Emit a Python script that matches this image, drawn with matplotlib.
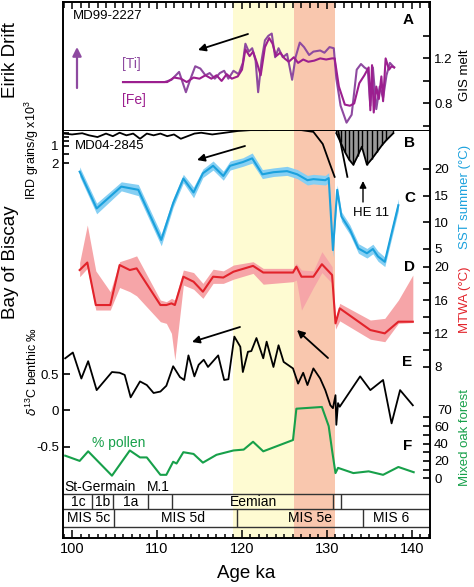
import matplotlib
matplotlib.use('Agg')
import matplotlib.pyplot as plt
from matplotlib.ticker import MultipleLocator

plt.rcParams['font.family'] = ['Liberation Sans', 'DejaVu Sans']
plt.rcParams['mathtext.fontset'] = 'custom'
plt.rcParams['mathtext.rm'] = 'Liberation Sans'

# ---------------- data ----------------
# Panel A: MD99-2227 [Ti] and [Fe] (GIS melt index)
ti_age = [106.0, 108.5, 110.9, 111.7, 112.6, 113.4, 113.9, 114.5, 115.1, 115.7, 116.2, 116.8,
          117.4, 117.9, 118.4, 119.0, 119.6, 120.1, 120.4, 120.8, 121.2, 121.6, 121.9, 122.3,
          122.7, 123.1, 123.5, 123.9, 124.3, 124.8, 125.3, 125.9, 126.3, 126.8, 127.3, 127.9,
          128.4, 129.2, 129.7, 130.3, 130.8, 131.1, 131.6, 132.3, 132.9, 133.5, 134.0, 134.4,
          134.8, 135.1, 135.4, 135.8, 136.2, 136.6, 137.0, 137.4, 137.9]
ti_val = [0.99, 0.99, 0.99, 1.01, 1.08, 0.90, 1.01, 1.13, 1.11, 1.05, 1.07, 1.02,
          1.07, 1.09, 1.02, 1.09, 1.06, 1.16, 1.33, 1.26, 1.29, 1.18, 0.90, 1.18,
          1.36, 1.40, 1.42, 1.21, 1.29, 1.21, 1.24, 1.01, 1.21, 1.34, 1.30, 1.23,
          1.26, 1.27, 1.25, 1.30, 1.29, 1.02, 0.78, 0.63, 0.70, 1.10, 1.15, 1.12,
          1.10, 0.78, 1.12, 0.75, 0.95, 0.85, 1.05, 1.16, 1.12]
fe_age = [106.0, 108.5, 111.2, 112.0, 112.8, 113.5, 114.3, 115.0, 115.7, 116.4, 117.0,
          117.6, 118.2, 118.8, 119.5, 120.0, 120.4, 120.9, 121.3, 121.8, 122.2, 122.7,
          123.2, 123.6, 124.0, 124.5, 125.0, 125.5, 126.1, 126.6, 127.2, 127.8, 128.5,
          129.2, 129.9, 130.6, 130.9, 131.4, 132.1, 132.7, 133.2, 133.8, 134.4, 134.9,
          135.1, 135.3, 135.5, 135.8, 136.1, 136.4, 136.6, 136.9, 137.3, 137.6, 137.9]
fe_val = [0.99, 0.99, 0.99, 1.03, 1.02, 0.99, 1.03, 1.02, 1.05, 1.02, 1.05,
          1.00, 1.06, 1.02, 1.04, 1.10, 1.28, 1.22, 1.26, 1.15, 1.05, 1.30,
          1.38, 1.33, 1.22, 1.25, 1.20, 1.17, 1.21, 1.16, 1.19, 1.17, 1.18,
          1.20, 1.19, 1.20, 1.20, 0.95, 0.79, 0.78, 0.80, 0.98, 1.05, 1.12,
          0.74, 1.14, 0.72, 0.95, 0.84, 1.04, 0.82, 1.20, 1.10, 1.13, 1.12]

# Panel B: IRD grains/g x10^3 (MD04-2845)
ird_age = [99.1, 100.0, 101.2, 102.0, 103.0, 104.0, 104.8, 105.6, 106.4, 107.2, 108.0,
           108.8, 109.6, 110.4, 111.2, 112.0, 112.8, 113.6, 114.4, 115.2, 116.5, 118.0,
           119.5, 121.0, 123.0, 125.0, 127.0, 128.4, 129.5, 130.3, 130.9]
ird_val = [0.30, 0.35, 0.28, 0.40, 0.50, 0.30, 0.45, 0.25, 0.40, 0.30, 0.60,
           0.30, 0.40, 0.30, 0.45, 0.35, 0.60, 0.45, 0.30, 0.25, 0.35, 0.25,
           0.15, 0.10, 0.10, 0.08, 0.10, 0.20, 0.90, 2.00, 2.80]
he_age = [131.1, 131.6, 132.1, 132.6, 133.1, 133.6, 134.1, 134.7, 135.3, 135.9, 136.5, 137.0, 137.8]
he_val = [0.28, 0.80, 1.35, 1.80, 2.10, 1.60, 1.06, 2.10, 1.75, 1.35, 0.95, 0.67, 0.28]
ird2_age = [131.3, 132.4]
ird2_val = [0.10, 2.80]

# Panel C: SST summer (deg C)
sst_age = [100.9, 102.9, 105.8, 107.8, 110.5, 111.9, 113.1, 114.3, 115.4, 116.6, 117.8, 118.6,
           120.1, 121.2, 122.4, 123.7, 125.3, 126.5, 127.7, 128.4, 129.8, 130.2, 130.7, 131.2,
           131.7, 132.7, 133.7, 134.7, 135.4, 136.0, 136.8, 137.7, 138.4]
sst_val = [19.5, 12.6, 16.7, 16.1, 6.7, 13.6, 18.2, 15.6, 19.2, 20.6, 18.7, 20.6,
           21.3, 22.0, 19.0, 19.4, 19.6, 19.0, 17.9, 18.1, 17.9, 18.3, 4.8, 16.1,
           11.1, 8.6, 5.1, 4.2, 5.0, 3.6, 2.6, 8.6, 13.2]
sst_lo = [18.6, 11.6, 15.9, 15.0, 5.6, 12.8, 17.4, 14.6, 18.4, 19.8, 17.9, 19.8,
          20.5, 21.1, 18.2, 18.6, 18.8, 18.2, 17.0, 17.2, 17.0, 17.4, 3.5, 15.0,
          10.2, 7.7, 4.2, 3.3, 4.1, 2.7, 1.7, 7.6, 12.2]
sst_hi = [20.4, 13.6, 17.6, 17.1, 7.8, 14.5, 19.0, 16.6, 20.0, 21.5, 19.6, 21.5,
          22.1, 23.0, 19.9, 20.2, 20.5, 19.9, 18.8, 19.0, 18.8, 19.3, 6.0, 17.0,
          12.0, 9.5, 6.0, 5.1, 5.9, 4.6, 3.5, 9.6, 14.4]

# Panel D: MTWA (deg C)
mtwa_age = [100.9, 101.8, 102.8, 104.5, 105.6, 106.8, 107.6, 110.4, 111.1, 111.7, 112.1, 113.1,
            114.3, 115.4, 116.6, 117.8, 119.0, 121.3, 122.5, 126.0, 126.4, 127.0, 128.4, 129.4,
            130.6, 131.0, 131.5, 135.1, 136.8, 138.4, 140.1]
mtwa_val = [19.6, 20.5, 15.4, 15.4, 20.2, 19.6, 19.8, 15.4, 15.4, 15.6, 15.4, 18.8,
            18.2, 17.0, 18.8, 18.7, 19.4, 20.1, 19.3, 19.3, 20.0, 18.8, 18.8, 20.3,
            19.0, 13.2, 15.0, 12.4, 12.0, 13.4, 13.4]
mtwa_lo = [18.8, 19.8, 14.8, 14.8, 17.5, 17.0, 16.5, 13.4, 13.2, 12.0, 8.8, 17.8,
           17.3, 16.2, 18.0, 18.0, 18.5, 19.2, 17.9, 18.2, 18.4, 14.8, 17.5, 19.3,
           18.0, 12.5, 13.5, 11.3, 11.0, 13.2, 13.3]
mtwa_hi = [20.5, 25.0, 19.5, 17.0, 20.6, 21.0, 21.3, 16.0, 15.8, 16.2, 16.0, 19.6,
           19.3, 18.0, 19.7, 19.5, 20.2, 20.6, 19.8, 19.8, 20.4, 19.6, 19.5, 21.8,
           20.0, 13.8, 15.6, 13.6, 13.8, 16.0, 19.0]

# Panel E: benthic d13C (permil)
d13_age = [99.2, 100.1, 101.1, 101.9, 102.9, 104.7, 105.6, 106.2, 106.9, 108.0, 108.8, 109.6,
           110.4, 111.1, 111.9, 112.7, 113.2, 113.7, 114.4, 114.9, 115.5, 116.0, 117.2, 117.9,
           118.4, 119.1, 119.8, 120.1, 120.7, 121.1, 121.7, 122.5, 122.9, 123.7, 124.3, 124.9,
           126.0, 126.6, 127.2, 127.7, 128.4, 129.2, 129.8, 130.4, 130.7, 131.0, 131.1, 131.3,
           131.5, 133.9, 135.1, 136.6, 137.6, 138.6, 140.1]
d13_val = [0.72, 0.80, 0.44, 0.68, 0.28, 0.53, 0.52, 0.49, 0.18, 0.40, 0.35, 0.24,
           0.26, 0.34, 0.61, 0.46, 0.42, 0.76, 0.47, 0.63, 0.70, 0.60, 0.76, 0.42,
           0.43, 1.02, 0.88, 0.53, 0.81, 0.82, 1.00, 0.72, 0.95, 0.60, 0.90, 0.67,
           0.58, 0.37, 0.52, 0.35, 0.58, 0.44, 0.28, 0.07, 0.03, 0.21, -0.20, 0.10,
           0.05, 0.47, 0.28, 0.42, -0.18, 0.28, 0.07]

# Panel F: mixed oak forest pollen (%)
oak_age = [99.2, 100.9, 101.9, 104.7, 106.8, 108.0, 108.8, 110.4, 111.1, 111.9, 112.3, 113.1,
           114.3, 115.4, 117.0, 119.0, 120.2, 121.3, 122.5, 126.0, 126.4, 129.4, 130.2, 130.6,
           131.0, 131.3, 133.1, 134.9, 136.6, 138.4, 140.2]
oak_val = [26, 20, 31, 3, 32, 24, 24, 4, 4, 19, 17, 30,
           28, 18, 27, 32, 33, 42, 31, 44, 80, 82, 60, 32,
           6, 12, 6, 8, 4, 13, 7]

# chronostratigraphy
shade_yellow = (119.0, 126.1)
shade_salmon = (126.1, 130.9)
sub_bounds = [102.4, 104.8, 108.9, 111.8, 130.7, 131.6]
sub_labels = ['1c', '1b', '1a', 'Eemian']
sub_label_age = [100.7, 103.6, 106.85, 121.3]
mis_bounds = [104.9, 119.4, 134.2]
mis_labels = ['MIS 5c', 'MIS 5d', 'MIS 5e', 'MIS 6']
mis_label_age = [102.0, 113.0, 128.0, 137.5]
pollen_zone_labels = ['St-Germain', 'M.1']
pollen_zone_age = [103.35, 110.1]

# ---------------- layout ----------------
W, H = 474, 587
X0, X1 = 63, 430
YA0, YA1 = 2, 131
YL0, YL1 = 131, 538
AGE_LIM = (98.94, 142.12)
YELLOW = '#fefbd2'
SALMON = '#f9c7ae'
PURPLE_TI = '#8e4aa0'
PURPLE_FE = '#9c1f8f'
BLUE = '#1ba1dd'
BLUE_BAND = '#86cff3'
RED = '#e2232b'
RED_BAND = '#f6a5a8'
GREEN = '#17a04a'
LW = 1.4

fig = plt.figure(figsize=(W / 100, H / 100), dpi=100)


def px_axes(x0, y0, x1, y1):
    return fig.add_axes([x0 / W, 1 - y1 / H, (x1 - x0) / W, (y1 - y0) / H])


# ---- Panel A ----
axA = px_axes(X0, YA0, X1, YA1)
axA.set_xlim(AGE_LIM)
axA.set_ylim(0.556, 1.70)
axA.axvspan(*shade_yellow, color=YELLOW, lw=0)
axA.axvspan(*shade_salmon, color=SALMON, lw=0)
axA.plot(ti_age, ti_val, color=PURPLE_TI, lw=1.5)
axA.plot(fe_age, fe_val, color=PURPLE_FE, lw=1.5)
for s in axA.spines.values():
    s.set_linewidth(LW)
axA.xaxis.tick_top()
axA.xaxis.set_major_locator(MultipleLocator(10))
axA.xaxis.set_minor_locator(MultipleLocator(1))
axA.tick_params(axis='x', which='both', direction='in', labeltop=False, width=1.1)
axA.tick_params(axis='x', which='major', length=5)
axA.tick_params(axis='x', which='minor', length=4)
axA.yaxis.tick_right()
axA.set_yticks([0.6, 0.8, 1.0, 1.2, 1.4])
axA.set_yticklabels(['', '0.8', '', '1.2', ''])
axA.tick_params(axis='y', direction='in', length=5, width=1.2, labelsize=9.5, pad=3)

# ---- Lower frame ----
axL = px_axes(X0, YL0, X1, YL1)
axL.set_xlim(AGE_LIM)
axL.set_ylim(YL1, YL0)
axL.axvspan(*shade_yellow, color=YELLOW, lw=0)
axL.axvspan(*shade_salmon, color=SALMON, lw=0)
axL.spines['top'].set_visible(False)
for k in ['left', 'right', 'bottom']:
    axL.spines[k].set_linewidth(LW)
axL.set_yticks([])
axL.xaxis.set_major_locator(MultipleLocator(10))
axL.xaxis.set_minor_locator(MultipleLocator(1))
axL.tick_params(axis='x', which='both', direction='in', width=1.1, labelsize=10.5, pad=3)
axL.tick_params(axis='x', which='major', length=6)
axL.tick_params(axis='x', which='minor', length=3)
axL.set_xlabel('Age ka', fontsize=13.5, labelpad=6)

# chronostratigraphic rows (row y positions in pixels)
ROW_TOP, ROW_MID, ROW_BOT = 494, 509, 527
for yy in (ROW_TOP, ROW_MID, ROW_BOT):
    axL.plot(AGE_LIM, [yy, yy], color='#333333', lw=1.0)
axL.vlines(sub_bounds, ROW_TOP, ROW_MID, color='#333333', lw=1.0)
axL.vlines(mis_bounds, ROW_MID, ROW_BOT, color='#333333', lw=1.0)
for a, t in zip(sub_label_age, sub_labels):
    axL.text(a, (ROW_TOP + ROW_MID) / 2 + 0.5, t, ha='center', va='center', fontsize=10)
for a, t in zip(mis_label_age, mis_labels):
    axL.text(a, (ROW_MID + ROW_BOT) / 2 + 0.5, t, ha='center', va='center', fontsize=10)
for a, t in zip(pollen_zone_age, pollen_zone_labels):
    axL.text(a, 487, t, ha='center', va='center', fontsize=10)


def overlay(v1, p1, v2, p2, side):
    ax = px_axes(X0, YL0, X1, YL1)
    ax.set_facecolor('none')
    for s in ax.spines.values():
        s.set_visible(False)
    ax.set_xlim(AGE_LIM)
    slope = (v2 - v1) / (p2 - p1)
    ax.set_ylim(v1 + (YL1 - p1) * slope, v1 + (YL0 - p1) * slope)
    ax.xaxis.set_visible(False)
    if side == 'right':
        ax.yaxis.tick_right()
    ax.tick_params(axis='y', direction='in', length=5, width=1.2, labelsize=9.5, pad=3)
    return ax


# ---- Panel B: IRD (inverted, left axis) ----
axB = overlay(1.0, 145.7, 2.0, 163.0, 'left')
axB.fill_between(he_age, 0, he_val, color='#9a9a9a', lw=0)
axB.vlines(he_age, 0, he_val, color='k', lw=1.0)
axB.plot(he_age, he_val, color='k', lw=1.3)
axB.plot(ird_age, ird_val, color='k', lw=1.3)
axB.plot(ird2_age, ird2_val, color='k', lw=1.3)
axB.set_yticks([0.25, 0.5, 0.75, 1.0, 1.5, 2.0])
axB.set_yticklabels(['', '', '', '1', '', '2'])
axB.tick_params(axis='y', length=4)

# ---- Panel C: SST ----
axC = overlay(20, 169.0, 5, 249.0, 'right')
axC.fill_between(sst_age, sst_lo, sst_hi, color=BLUE_BAND, lw=0)
axC.plot(sst_age, sst_val, color=BLUE, lw=1.5)
axC.set_yticks([5, 10, 15, 20])

# ---- Panel D: MTWA ----
axD = overlay(20, 266.7, 8, 366.7, 'right')
axD.fill_between(mtwa_age, mtwa_lo, mtwa_hi, color=RED_BAND, lw=0)
axD.plot(mtwa_age, mtwa_val, color=RED, lw=1.5)
axD.set_yticks([8, 10, 12, 14, 16, 18, 20])
axD.set_yticklabels(['8', '', '12', '', '16', '', '20'])

# ---- Panel E: d13C (left axis) ----
axE = overlay(0.5, 374.2, -0.5, 446.5, 'left')
axE.plot(d13_age, d13_val, color='k', lw=1.3)
axE.set_yticks([-0.5, 0, 0.5])
axE.set_yticklabels(['-0.5', '0', '0.5'])

# ---- Panel F: oak pollen ----
axF = overlay(0, 478.3, 70, 417.4, 'right')
axF.plot(oak_age, oak_val, color=GREEN, lw=1.5)
axF.set_yticks([0, 10, 20, 30, 40, 50, 60, 70])
axF.set_yticklabels(['0', '', '20', '', '40', '', '60', ''])

# ---- annotation layer (pixel coordinates) ----
ov = fig.add_axes([0, 0, 1, 1])
ov.set_xlim(0, W)
ov.set_ylim(H, 0)
ov.axis('off')
ov.patch.set_alpha(0)

# '70' label of the oak axis, lifted slightly so it clears '60' (as in the original)
ov.text(437, 411, '70', fontsize=9.5, ha='left', va='center')


def arrow(x1, y1, x2, y2, color='k', lw=1.3, ms=11):
    ov.annotate('', xy=(x2, y2), xytext=(x1, y1),
                arrowprops=dict(arrowstyle='-|>', color=color, lw=lw, mutation_scale=ms,
                                shrinkA=0, shrinkB=0))


arrow(248, 34, 198, 50)
arrow(245, 146, 197, 160)
arrow(240, 327, 192, 342)
arrow(328, 358, 297, 330)
arrow(77, 88, 77, 47, color=PURPLE_TI, lw=1.6, ms=13)
arrow(363, 202, 363, 181, lw=1.0, ms=10)

ov.text(73, 16, 'MD99-2227', fontsize=9.5, va='center', ha='left')
ov.text(75, 146, 'MD04-2845', fontsize=9.5, va='center', ha='left')
ov.text(122, 64, '[Ti]', fontsize=10, color=PURPLE_TI, va='center', ha='left')
ov.text(122, 100, '[Fe]', fontsize=10, color=PURPLE_FE, va='center', ha='left')
ov.text(371, 213, 'HE 11', fontsize=9.5, va='center', ha='center')
ov.text(92, 443, '% pollen', fontsize=10, color=GREEN, va='center', ha='left')

for lab, (x, y) in zip('ABCDEF', [(408, 20), (410, 143), (410, 198), (410, 267),
                                  (407, 362), (408, 446)]):
    ov.text(x, y, lab, fontsize=11, fontweight='bold', ha='center', va='center')

ov.text(11, 60, 'Eirik Drift', fontsize=13.5, rotation=90, ha='center', va='center')
ov.text(11, 262, 'Bay of Biscay', fontsize=13.5, rotation=90, ha='center', va='center')
ov.text(32, 150, 'IRD grains/g x10$^3$', fontsize=9, rotation=90, ha='center', va='center')
ov.text(32, 372, '$\\delta^{13}$C benthic \u2030', fontsize=9, rotation=90, ha='center', va='center')
ov.text(465, 75, 'GIS melt', fontsize=9.5, rotation=90, ha='center', va='center')
ov.text(465, 197, 'SST summer (\u00b0C)', fontsize=9.5, rotation=90, ha='center', va='center',
        color=BLUE)
ov.text(465, 300, 'MTWA (\u00b0C)', fontsize=9.5, rotation=90, ha='center', va='center',
        color=RED)
ov.text(465, 437, 'Mixed oak forest', fontsize=9.5, rotation=90, ha='center', va='center',
        color=GREEN)

fig.savefig('out.png', dpi=100)
